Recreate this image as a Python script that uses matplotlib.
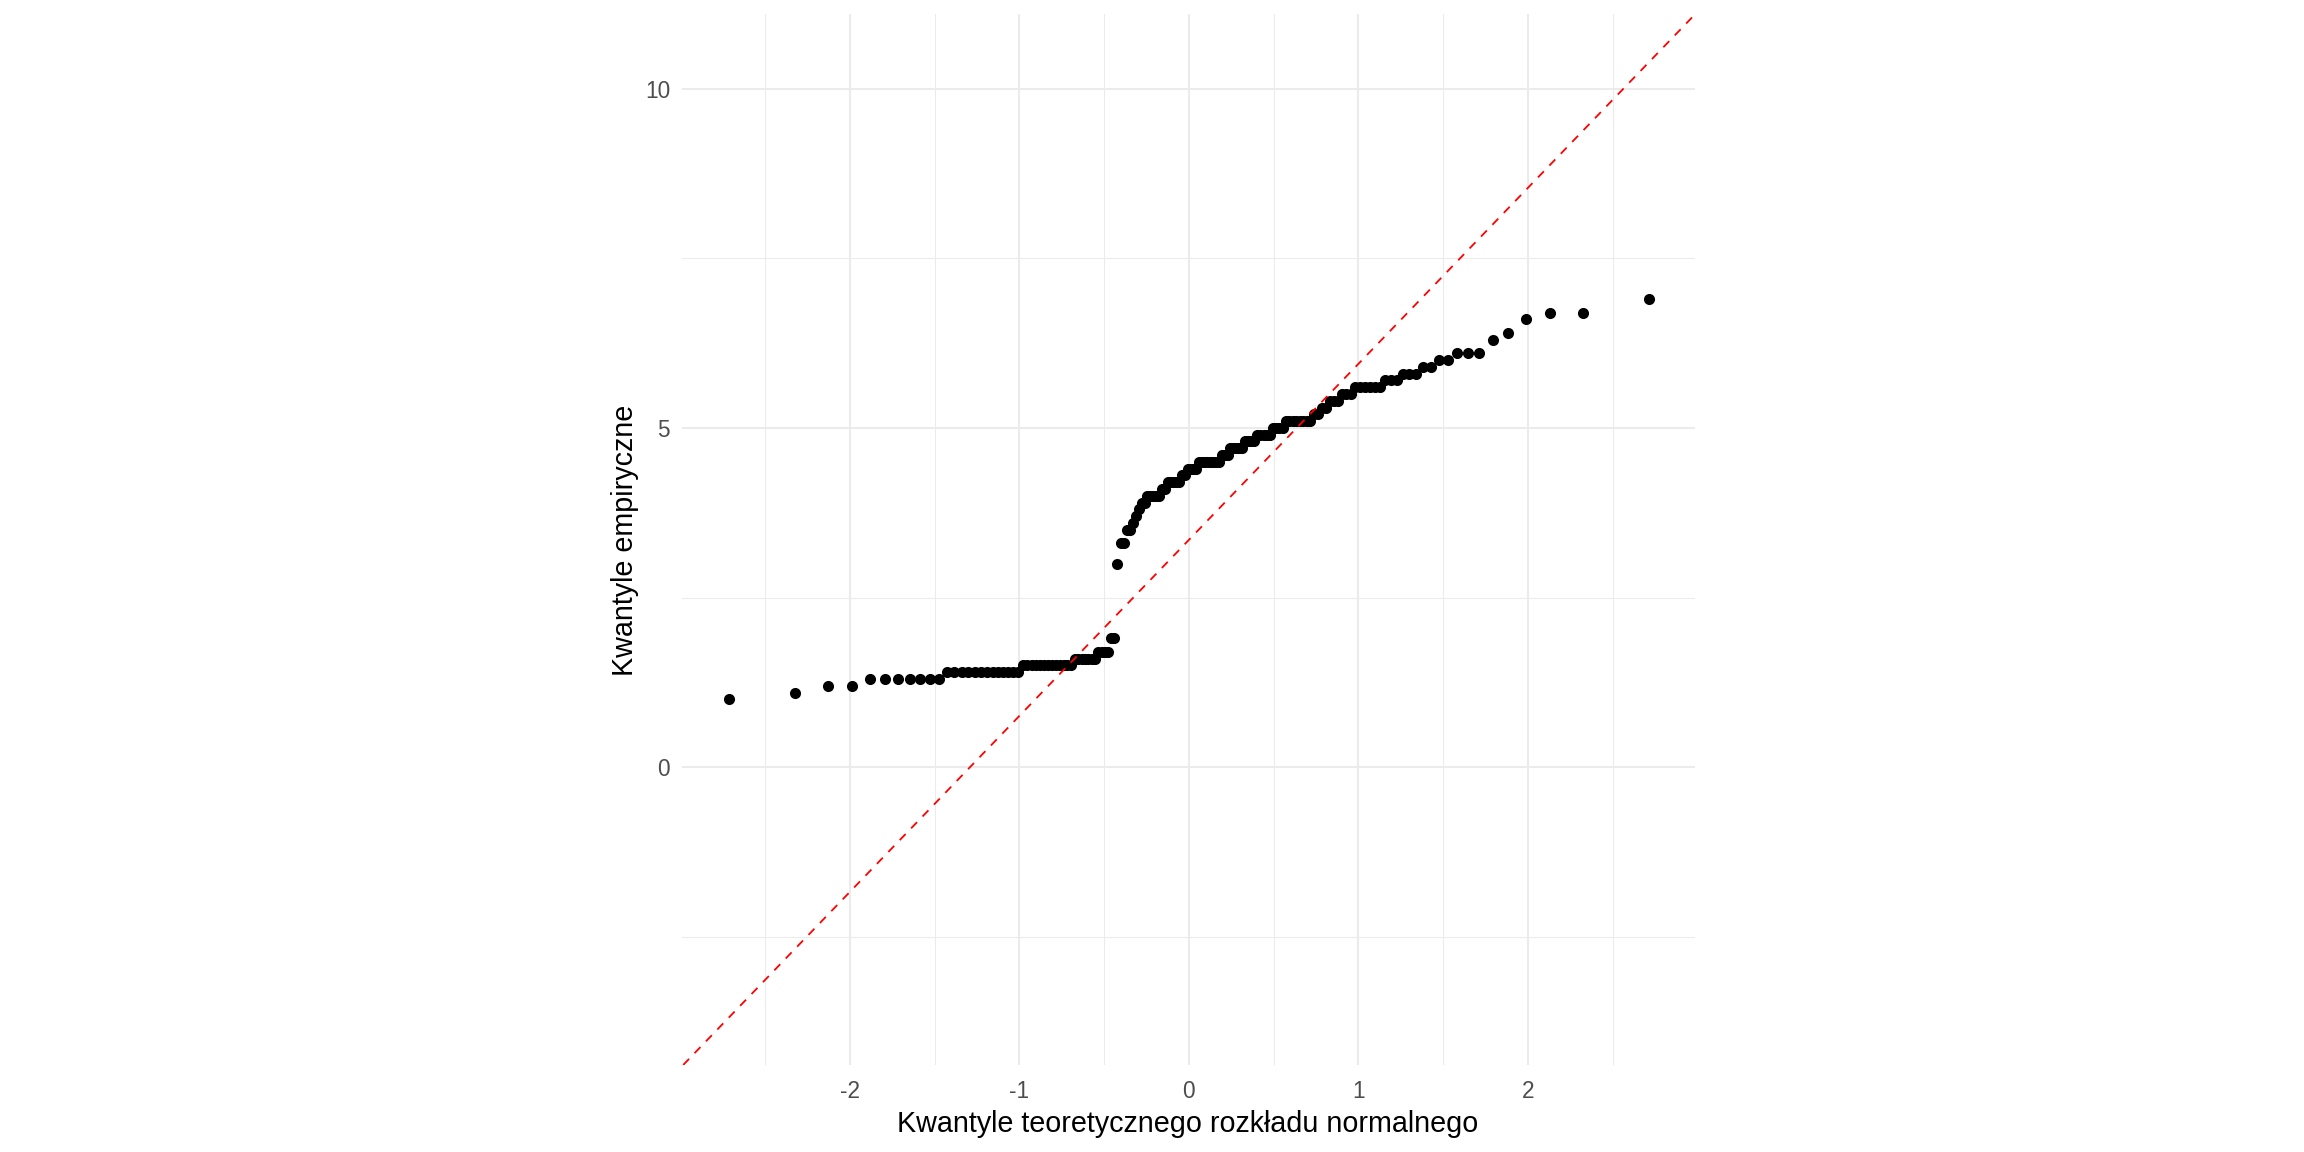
import numpy as np
import matplotlib.pyplot as plt
from statistics import NormalDist

# Próba (posortowane wartości)
probka = [
    1.0, 1.1, 1.2, 1.2,
    1.3, 1.3, 1.3, 1.3, 1.3, 1.3, 1.3,
    1.4, 1.4, 1.4, 1.4, 1.4, 1.4, 1.4, 1.4, 1.4, 1.4, 1.4, 1.4, 1.4,
    1.5, 1.5, 1.5, 1.5, 1.5, 1.5, 1.5, 1.5, 1.5, 1.5, 1.5, 1.5, 1.5,
    1.6, 1.6, 1.6, 1.6, 1.6, 1.6, 1.6,
    1.7, 1.7, 1.7, 1.7, 1.9, 1.9,
    3.0, 3.3, 3.3, 3.5, 3.5, 3.6, 3.7, 3.8, 3.9, 3.9,
    4.0, 4.0, 4.0, 4.0, 4.0, 4.1, 4.1,
    4.2, 4.2, 4.2, 4.2, 4.2, 4.3, 4.3,
    4.4, 4.4, 4.4, 4.4,
    4.5, 4.5, 4.5, 4.5, 4.5, 4.5, 4.5, 4.5,
    4.6, 4.6, 4.6, 4.7, 4.7, 4.7, 4.7, 4.7,
    4.8, 4.8, 4.8, 4.8, 4.9, 4.9, 4.9, 4.9, 4.9,
    5.0, 5.0, 5.0, 5.0,
    5.1, 5.1, 5.1, 5.1, 5.1, 5.1, 5.1, 5.1,
    5.2, 5.2, 5.3, 5.3, 5.4, 5.4, 5.4, 5.5, 5.5, 5.5,
    5.6, 5.6, 5.6, 5.6, 5.6, 5.6,
    5.7, 5.7, 5.7, 5.8, 5.8, 5.8, 5.9, 5.9, 6.0, 6.0,
    6.1, 6.1, 6.1, 6.3, 6.4, 6.6, 6.7, 6.7, 6.9,
]

x_ticks = [-2, -1, 0, 1, 2]
y_ticks = [0, 5, 10]
x_minor = [-2.5, -1.5, -0.5, 0.5, 1.5, 2.5]
y_minor = [-2.5, 2.5, 7.5]

# kwantyle teoretyczne jak w ppoints()
y = np.sort(np.array(probka))
n = len(y)
nd = NormalDist()
p = (np.arange(1, n + 1) - 0.5) / n
x = np.array([nd.inv_cdf(v) for v in p])

# linia przez kwartyle (jak qqline)
q1, q3 = np.quantile(y, [0.25, 0.75])
t1, t3 = nd.inv_cdf(0.25), nd.inv_cdf(0.75)
slope = (q3 - q1) / (t3 - t1)
intercept = q1 - slope * t1

plt.rcParams['font.family'] = ['Liberation Sans', 'DejaVu Sans']
plt.rcParams['axes.unicode_minus'] = False

fig = plt.figure(figsize=(23.04, 11.52), dpi=100)
ax = fig.add_axes([682 / 2304, 1 - 1065 / 1152, 1013 / 2304, 1051 / 1152])

ax.scatter(x, y, s=64, color='black', linewidths=0, zorder=3)
ax.axline((0, intercept), slope=slope, color='red', lw=1.3,
          linestyle=(0, (4.7, 4.4)), zorder=4)

ax.set_xlim(-2.99, 2.985)
ax.set_ylim(-4.39, 11.10)
ax.set_xticks(x_ticks)
ax.set_yticks(y_ticks)
ax.set_xticks(x_minor, minor=True)
ax.set_yticks(y_minor, minor=True)
ax.set_xticklabels([str(v) for v in x_ticks])
ax.set_yticklabels([str(v) for v in y_ticks])

ax.grid(which='major', color='#EBEBEB', lw=1.45)
ax.grid(which='minor', color='#EBEBEB', lw=0.75)
ax.set_axisbelow(True)
for s in ax.spines.values():
    s.set_visible(False)
ax.tick_params(which='both', length=0)
ax.tick_params(axis='x', labelsize=16.3, labelcolor='#4D4D4D', pad=10.5)
ax.tick_params(axis='y', labelsize=16.3, labelcolor='#4D4D4D', pad=8.6)

fig.text(1188 / 2304, 1 - 1131.7 / 1152, 'Kwantyle teoretycznego rozkładu normalnego',
         ha='center', va='baseline', fontsize=20.7, color='black')
fig.text(625 / 2304, 1 - 540 / 1152, 'Kwantyle empiryczne',
         ha='center', va='center', rotation=90, fontsize=20.7, color='black')

fig.savefig('out.png', dpi=100, facecolor='white')
